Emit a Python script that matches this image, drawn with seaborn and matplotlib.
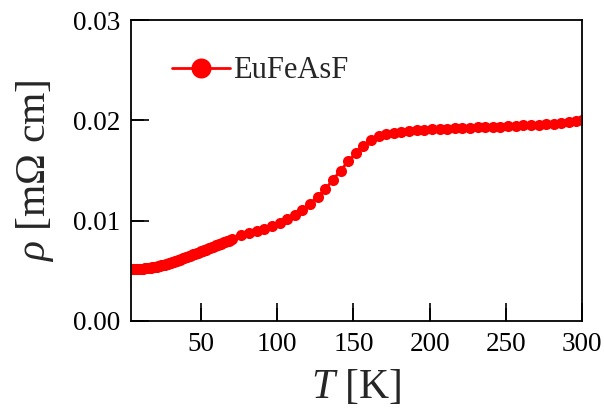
import matplotlib
matplotlib.use('Agg')
import matplotlib.pyplot as plt
import pandas as pd
import numpy as np
import seaborn as sns

# temperature [K]
temp_low = [5, 6, 7, 8, 9, 10, 11, 12, 13, 14, 15, 16, 17, 18, 19, 20,
            21, 22, 23, 24, 25, 26, 27, 28, 29, 30, 31, 32, 33, 34, 35, 36,
            37, 38, 39, 40, 41, 42, 43, 44, 45, 46, 47, 48, 49, 50, 51, 52,
            53, 54, 55, 56, 57, 58, 59, 60, 61, 62, 63, 64, 65, 66, 67, 68,
            69, 70]
rho_low = [0.00520, 0.00520, 0.00520, 0.00520, 0.00521, 0.00521, 0.00522, 0.00523,
           0.00524, 0.00525, 0.00527, 0.00529, 0.00531, 0.00534, 0.00537, 0.00540,
           0.00543, 0.00547, 0.00551, 0.00555, 0.00559, 0.00563, 0.00567, 0.00572,
           0.00576, 0.00581, 0.00586, 0.00591, 0.00596, 0.00601, 0.00606, 0.00612,
           0.00617, 0.00623, 0.00628, 0.00634, 0.00640, 0.00646, 0.00652, 0.00658,
           0.00664, 0.00670, 0.00676, 0.00682, 0.00688, 0.00694, 0.00700, 0.00706,
           0.00712, 0.00718, 0.00724, 0.00730, 0.00736, 0.00742, 0.00748, 0.00754,
           0.00760, 0.00766, 0.00772, 0.00778, 0.00784, 0.00790, 0.00796, 0.00802,
           0.00808, 0.00814]

temp_high = [76.5, 81.5, 86.5, 91.5, 96.5, 101.5, 106.5, 111.5, 116.5, 121.5,
             126.5, 131.5, 136.5, 141.5, 146.5, 151.5, 156.5, 161.5, 166.5, 171.5,
             176.5, 181.5, 186.5, 191.5, 196.5, 201.5, 206.5, 211.5, 216.5, 221.5,
             226.5, 231.5, 236.5, 241.5, 246.5, 251.5, 256.5, 261.5, 266.5, 271.5,
             276.5, 281.5, 286.5, 291.5, 296.0, 300.0]
rho_high = [0.00858, 0.00875, 0.00898, 0.00918, 0.00948, 0.00981, 0.01018, 0.01058,
            0.01111, 0.01171, 0.01240, 0.01314, 0.01407, 0.01500, 0.01590, 0.01674,
            0.01747, 0.01806, 0.01846, 0.01866, 0.01873, 0.01883, 0.01893, 0.01900,
            0.01906, 0.01910, 0.01913, 0.01916, 0.01920, 0.01923, 0.01926, 0.01929,
            0.01932, 0.01935, 0.01938, 0.01941, 0.01945, 0.01949, 0.01953, 0.01957,
            0.01962, 0.01967, 0.01973, 0.01982, 0.01992, 0.02000]

x_ticks = [50, 100, 150, 200, 250, 300]
y_ticks = [0.00, 0.01, 0.02, 0.03]

data = pd.DataFrame({'T': temp_low + temp_high, 'rho': rho_low + rho_high})

sns.set_style('ticks')
plt.rcParams['font.family'] = ['Liberation Serif', 'DejaVu Serif']
plt.rcParams['mathtext.fontset'] = 'custom'
plt.rcParams['mathtext.rm'] = 'Liberation Serif'
plt.rcParams['mathtext.it'] = 'Liberation Serif:italic'
plt.rcParams['axes.edgecolor'] = 'black'
plt.rcParams['axes.linewidth'] = 1.3

fig = plt.figure(figsize = (6.04, 4.12), dpi = 100)
ax = fig.add_axes([131/604, 1 - 321/412, 451/604, 301/412])

sns.lineplot(x = 'T', y = 'rho', data = data, ax = ax, color = 'red', linewidth = 2,
             marker = 'o', markersize = 8, markeredgewidth = 0, label = 'EuFeAsF')

ax.set_xlim(4, 300)
ax.set_ylim(0, 0.03)
ax.set_xticks(x_ticks)
ax.set_yticks(y_ticks)
ax.set_xticklabels([str(t) for t in x_ticks])
ax.set_yticklabels(['%.2f' % t for t in y_ticks])
ax.set_axisbelow(False)

ax.set_xlabel(r'$T$ [K]', fontsize = 30, labelpad = 8)
ax.set_ylabel(r'$\rho$ [m$\Omega$ cm]', fontsize = 30, labelpad = 12)

ax.legend(loc = 'upper left', frameon = False, fontsize = 22, markerscale = 1.8,
          handlelength = 1.9, handletextpad = 0.1, borderaxespad = 0.2,
          bbox_to_anchor = (0.05, 0.94))

# ticks last, inward, only bottom and left
ax.tick_params(axis = 'both', which = 'major', bottom = True, left = True, top = False, right = False,
               direction = 'in', length = 13, width = 1.2, labelsize = 19.5,
               color = 'black', labelcolor = 'black', pad = 8)
# inward tick marks drawn again as plain lines so they always show
ax.vlines(x_ticks, 0, 13/301, transform = ax.get_xaxis_transform(), color = 'black',
          linewidth = 1.2, zorder = 4, clip_on = False)
ax.hlines(y_ticks, 0, 13/451, transform = ax.get_yaxis_transform(), color = 'black',
          linewidth = 1.2, zorder = 4, clip_on = False)

plt.savefig('out.png', dpi = 100)
